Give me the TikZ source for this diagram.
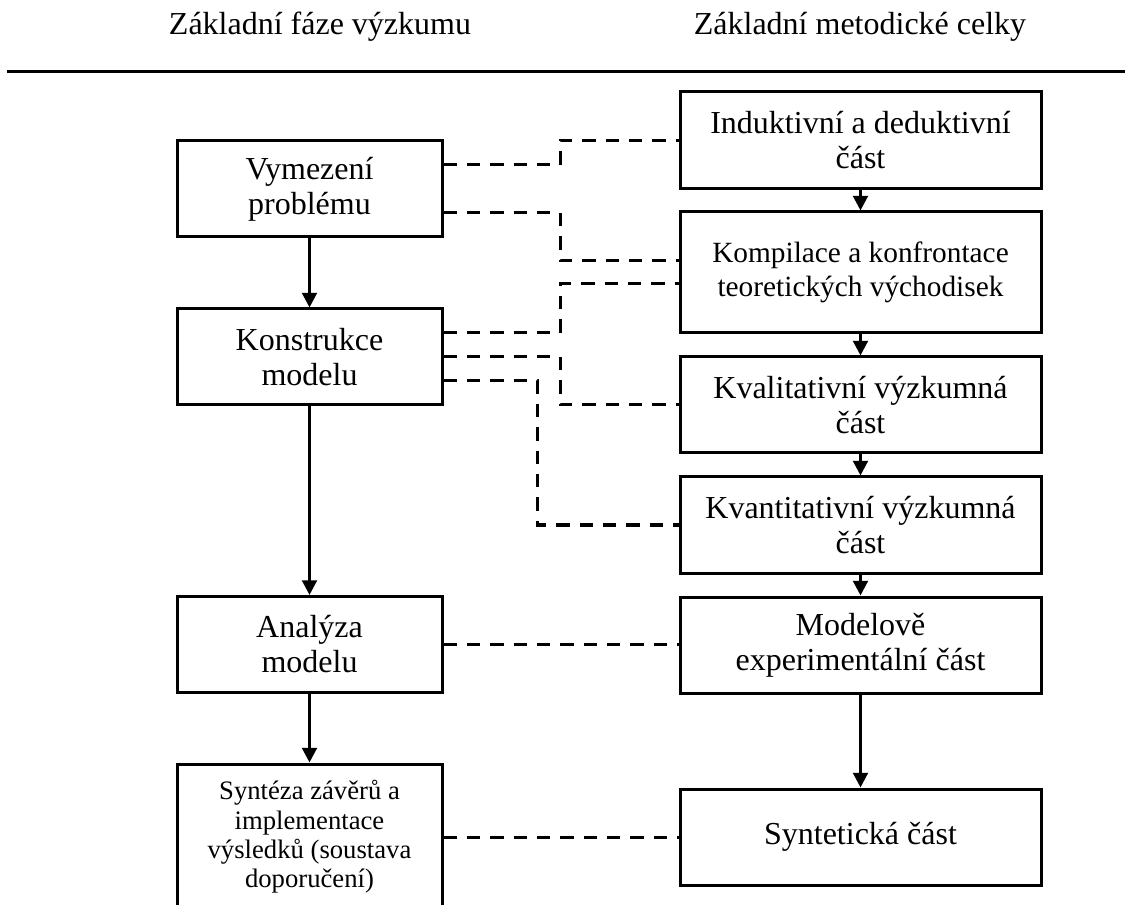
\documentclass[tikz,border=0pt]{standalone}
\usepackage{fontspec}
\setmainfont{Liberation Serif}
\usetikzlibrary{arrows.meta}
\begin{document}
\begin{tikzpicture}[x=0.75pt, y=-0.75pt,
  box/.style={draw, line width=2.25pt, align=center, inner sep=0pt, minimum height=72pt},
  lbox/.style={box, minimum width=198.75pt},
  rbox/.style={box, minimum width=270.75pt},
  bigtext/.style={font=\fontsize{24}{26.25}\selectfont},
  midtext/.style={font=\fontsize{22}{25.5}\selectfont},
  smalltext/.style={font=\fontsize{20}{22}\selectfont},
  link/.style={line width=2.25pt, -{Triangle[length=11pt,width=11pt]}},
  dline/.style={line width=2.25pt, dash pattern=on 10pt off 7.5pt},
]
\useasboundingbox (0,0) rectangle (1125,905);
\clip (0,0) rectangle (1125,905);

% column headings and rule
\node[bigtext, anchor=base] (head1) at (320,35) {Základní fáze výzkumu};
\node[bigtext, anchor=base] (head2) at (860,35) {Základní metodické celky};
\draw[line width=2.25pt] (7,72) -- (1125,72);

% phases of the research (left column)
\node[lbox, bigtext] (vym) at (309.5,189) {Vymezení\\problému};
\node[lbox, bigtext] (kon) at (309.5,357) {Konstrukce\\modelu};
\node[lbox, bigtext] (ana) at (309.5,644.5) {Analýza\\modelu};
\node[lbox, smalltext, minimum height=109.5pt] (syn) at (309.5,837)
  {Syntéza závěrů a\\implementace\\výsledků (soustava\\doporučení)};

% methodological units (right column)
\node[rbox, bigtext, minimum height=72.75pt] (ind) at (860.5,140.5) {Induktivní a deduktivní\\část};
\node[rbox, midtext, minimum height=90.75pt] (kom) at (860.5,272.5) {Kompilace a konfrontace\\teoretických východisek};
\node[rbox, bigtext] (kval) at (860.5,405) {Kvalitativní výzkumná\\část};
\node[rbox, bigtext] (kvant) at (860.5,525) {Kvantitativní výzkumná\\část};
\node[rbox, bigtext] (mod) at (860.5,645) {Modelově\\experimentální část};
\node[rbox, bigtext] (synt) at (860.5,837) {Syntetická část};

% solid flow arrows
\draw[link] (vym) -- (kon);
\draw[link] (kon) -- (ana);
\draw[link] (ana) -- (syn);
\draw[link] (ind) -- (kom);
\draw[link] (kom) -- (kval);
\draw[link] (kval) -- (kvant);
\draw[link] (kvant) -- (mod);
\draw[link] (mod) -- (synt);

% dashed links between phases and units
\draw[dline] (vym.east |- 0,165) -- (560,165) |- (ind.west);
\draw[dline] (vym.east |- 0,213) -- (560,213) |- (kom.west |- 0,261);
\draw[dline] (kon.east |- 0,333) -- (560,333) |- (kom.west |- 0,284);
\draw[dline] (kon.east) -- (560,357) |- (kval.west);
\draw[dline] (kon.east |- 0,381) -- (537,381) |- (kvant.west);
\draw[dline] (ana.east) -- (ana.east -| mod.west);
\draw[dline] (syn.east) -- (synt.west);
\end{tikzpicture}
\end{document}
